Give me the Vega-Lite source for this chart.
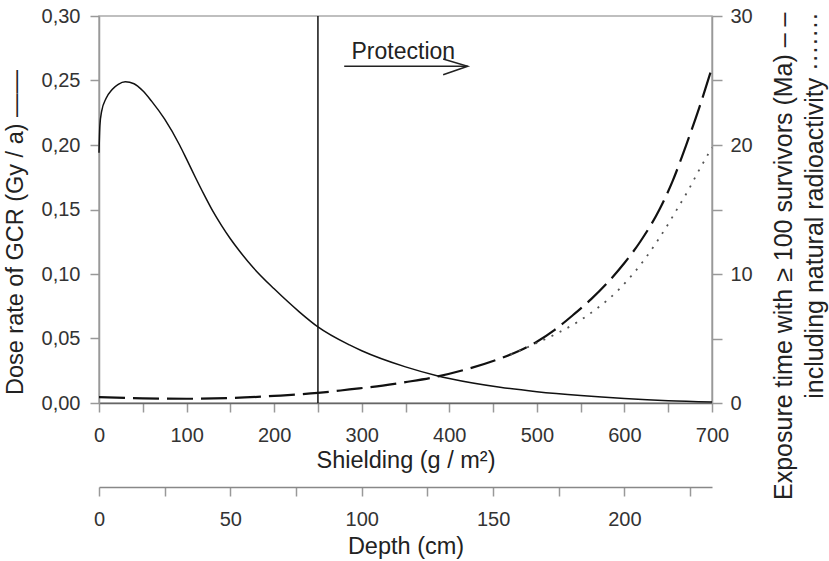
{
  "$schema": "https://vega.github.io/schema/vega-lite/v6.json",
  "width": 613,
  "height": 387,
  "autosize": "none",
  "padding": {"left": 99, "top": 16, "right": 117, "bottom": 158},
  "background": "white",
  "config": {
    "font": "Liberation Sans",
    "view": {"stroke": "#aaa", "strokeWidth": 1.5},
    "axis": {
      "labelFont": "Liberation Sans",
      "titleFont": "Liberation Sans",
      "labelFontSize": 20,
      "titleFontSize": 23.5,
      "titleFontWeight": "normal",
      "labelColor": "#333",
      "titleColor": "#222",
      "grid": false,
      "domainColor": "#999",
      "domainWidth": 1.5,
      "tickColor": "#999",
      "tickWidth": 1.5,
      "tickSize": 9,
      "labelOverlap": false,
      "labelFlush": false
    }
  },
  "datasets": {
    "dose": [
      {"s": 0, "v": 0.194}, {"s": 1, "v": 0.215}, {"s": 3, "v": 0.226},
      {"s": 8, "v": 0.236}, {"s": 15, "v": 0.243}, {"s": 22, "v": 0.247},
      {"s": 30, "v": 0.249}, {"s": 40, "v": 0.2475}, {"s": 50, "v": 0.242},
      {"s": 60, "v": 0.234}, {"s": 75, "v": 0.22}, {"s": 92, "v": 0.2},
      {"s": 100, "v": 0.189}, {"s": 110, "v": 0.175}, {"s": 120, "v": 0.1615},
      {"s": 130, "v": 0.1487}, {"s": 140, "v": 0.1375}, {"s": 150, "v": 0.1273},
      {"s": 160, "v": 0.1182}, {"s": 176, "v": 0.105}, {"s": 200, "v": 0.0885},
      {"s": 229, "v": 0.0705}, {"s": 250, "v": 0.059}, {"s": 286, "v": 0.045},
      {"s": 300, "v": 0.0405}, {"s": 350, "v": 0.028}, {"s": 387, "v": 0.021},
      {"s": 400, "v": 0.019}, {"s": 458, "v": 0.0122}, {"s": 500, "v": 0.0088},
      {"s": 550, "v": 0.0058}, {"s": 600, "v": 0.0035}, {"s": 650, "v": 0.0018},
      {"s": 700, "v": 0.0008}
    ],
    "marker": [
      {"s": 250, "v": 0, "v2": 0.3}
    ],
    "arrow": [
      {"s": 280, "v": 0.261, "part": "shaft", "o": 1},
      {"s": 421, "v": 0.261, "part": "shaft", "o": 2},
      {"s": 393, "v": 0.2667, "part": "head", "o": 1},
      {"s": 421, "v": 0.261, "part": "head", "o": 2},
      {"s": 393, "v": 0.2545, "part": "head", "o": 3}
    ],
    "note": [
      {"s": 347.5, "v": 0.267, "label": "Protection"}
    ],
    "exposure": [
      {"s": 0, "t": 0.45, "series": "GCR"}, {"s": 50, "t": 0.36, "series": "GCR"},
      {"s": 100, "t": 0.33, "series": "GCR"}, {"s": 150, "t": 0.38, "series": "GCR"},
      {"s": 200, "t": 0.55, "series": "GCR"}, {"s": 250, "t": 0.78, "series": "GCR"},
      {"s": 286, "t": 1.05, "series": "GCR"}, {"s": 324, "t": 1.35, "series": "GCR"},
      {"s": 350, "t": 1.62, "series": "GCR"}, {"s": 387, "t": 2.06, "series": "GCR"},
      {"s": 420, "t": 2.62, "series": "GCR"}, {"s": 458, "t": 3.45, "series": "GCR"},
      {"s": 480, "t": 4.05, "series": "GCR"}, {"s": 500, "t": 4.75, "series": "GCR"},
      {"s": 520, "t": 5.65, "series": "GCR"}, {"s": 541, "t": 6.8, "series": "GCR"},
      {"s": 562, "t": 8.05, "series": "GCR"}, {"s": 583, "t": 9.5, "series": "GCR"},
      {"s": 600, "t": 10.85, "series": "GCR"}, {"s": 618, "t": 12.5, "series": "GCR"},
      {"s": 640, "t": 15.0, "series": "GCR"}, {"s": 655, "t": 17.2, "series": "GCR"},
      {"s": 670, "t": 19.9, "series": "GCR"}, {"s": 685, "t": 22.8, "series": "GCR"},
      {"s": 700, "t": 26.0, "series": "GCR"},
      {"s": 470, "t": 3.75, "series": "natural"}, {"s": 500, "t": 4.65, "series": "natural"},
      {"s": 526, "t": 5.5, "series": "natural"}, {"s": 547, "t": 6.3, "series": "natural"},
      {"s": 570, "t": 7.4, "series": "natural"}, {"s": 581, "t": 8.0, "series": "natural"},
      {"s": 593, "t": 8.75, "series": "natural"}, {"s": 602, "t": 9.4, "series": "natural"},
      {"s": 611, "t": 10.1, "series": "natural"}, {"s": 621, "t": 10.95, "series": "natural"},
      {"s": 638, "t": 12.6, "series": "natural"}, {"s": 652, "t": 14.1, "series": "natural"},
      {"s": 659, "t": 14.9, "series": "natural"}, {"s": 673, "t": 16.5, "series": "natural"},
      {"s": 684, "t": 17.9, "series": "natural"}, {"s": 700, "t": 19.8, "series": "natural"}
    ],
    "depth": [
      {"depth": 0}, {"depth": 233.33}
    ]
  },
  "layer": [
    {
      "encoding": {
        "x": {
          "field": "s",
          "type": "quantitative",
          "scale": {"domain": [0, 700], "nice": false, "zero": false},
          "axis": {
            "orient": "bottom",
            "title": "Shielding (g / m²)",
            "values": [0, 50, 100, 150, 200, 250, 300, 350, 400, 450, 500, 550, 600, 650, 700],
            "labelExpr": "datum.value % 100 == 0 ? datum.label : ''",
            "domainColor": "#666",
            "labelPadding": 13,
            "titlePadding": 3
          }
        }
      },
      "layer": [
        {
          "encoding": {
            "y": {
              "field": "v",
              "type": "quantitative",
              "scale": {"domain": [0, 0.3], "nice": false},
              "axis": {
                "orient": "left",
                "title": "Dose rate of GCR (Gy / a) ——",
                "values": [0, 0.05, 0.1, 0.15, 0.2, 0.25, 0.3],
                "labelExpr": "replace(format(datum.value, '.2f'), '.', ',')",
                "labelPadding": 10,
                "titleAngle": -90,
                "titleAlign": "center",
                "titleBaseline": "alphabetic",
                "titleX": -77,
                "titleY": 216
              }
            }
          },
          "layer": [
            {
              "data": {"name": "dose"},
              "mark": {"type": "line", "color": "#111", "strokeWidth": 1.5, "interpolate": "monotone"}
            },
            {
              "data": {"name": "marker"},
              "mark": {"type": "rule", "color": "#111", "strokeWidth": 1.5},
              "encoding": {"y2": {"field": "v2"}}
            },
            {
              "data": {"name": "arrow"},
              "mark": {"type": "line", "color": "#222", "strokeWidth": 1.5},
              "encoding": {
                "detail": {"field": "part", "type": "nominal"},
                "order": {"field": "o", "type": "quantitative"}
              }
            },
            {
              "data": {"name": "note"},
              "mark": {"type": "text", "fontSize": 23, "color": "#222", "align": "center", "baseline": "alphabetic", "font": "Liberation Sans"},
              "encoding": {"text": {"field": "label"}}
            }
          ]
        },
        {
          "data": {"name": "exposure"},
          "mark": {"type": "line", "interpolate": "monotone"},
          "encoding": {
            "y": {
              "field": "t",
              "type": "quantitative",
              "scale": {"domain": [0, 30], "nice": false},
              "axis": {
                "orient": "right",
                "title": ["Exposure time with ≥ 100 survivors (Ma) – –", "including natural radioactivity ·······     "],
                "values": [0, 5, 10, 15, 20, 25, 30],
                "labelExpr": "datum.value % 10 == 0 ? datum.label : ''",
                "tickSize": 10,
                "labelPadding": 8,
                "titleFontSize": 25,
                "titleAngle": -90,
                "titleAlign": "right",
                "titleBaseline": "alphabetic",
                "titleX": 79,
                "titleY": -4,
                "titleLineHeight": 31
              }
            },
            "color": {"field": "series", "type": "nominal", "scale": {"domain": ["GCR", "natural"], "range": ["#111", "#555"]}, "legend": null},
            "strokeDash": {"field": "series", "type": "nominal", "scale": {"domain": ["GCR", "natural"], "range": [[26, 8], [2, 7]]}, "legend": null},
            "strokeWidth": {"field": "series", "type": "nominal", "scale": {"domain": ["GCR", "natural"], "range": [2.2, 1.8]}, "legend": null}
          }
        }
      ],
      "resolve": {"scale": {"y": "independent"}}
    },
    {
      "data": {"name": "depth"},
      "mark": {"type": "point", "opacity": 0},
      "encoding": {
        "x": {
          "field": "depth",
          "type": "quantitative",
          "scale": {"domain": [0, 233.33], "nice": false, "zero": false},
          "axis": {
            "orient": "bottom",
            "offset": 84,
            "title": "Depth (cm)",
            "values": [0, 25, 50, 75, 100, 125, 150, 175, 200, 225],
            "labelExpr": "datum.value % 50 == 0 ? datum.label : ''",
            "domainColor": "#888",
            "labelPadding": 13,
            "titlePadding": 5
          }
        }
      }
    }
  ],
  "resolve": {"scale": {"x": "independent", "y": "independent"}}
}
